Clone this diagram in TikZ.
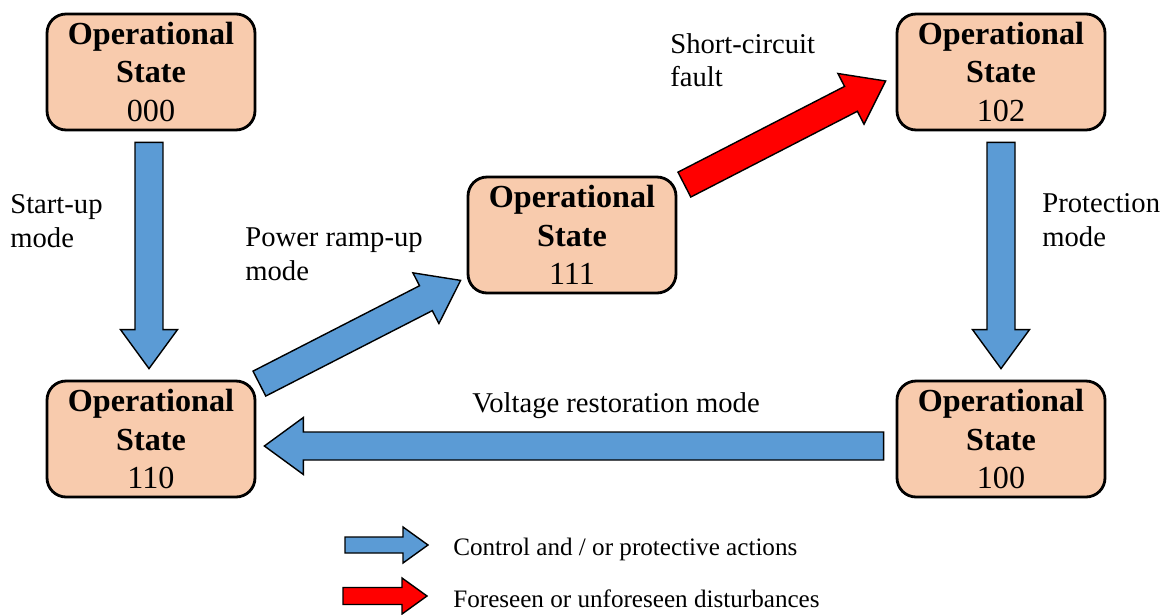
\documentclass[tikz,border=0pt]{standalone}
\usepackage{fontspec}
\setmainfont{Liberation Serif}
\usepackage{xcolor}
\usepackage{tikz}
\usetikzlibrary{calc, positioning}
\definecolor{statepeach}{HTML}{F8CBAD}
\definecolor{ctrlblue}{HTML}{5B9BD5}
\definecolor{faultred}{HTML}{FF0000}

\begin{document}
\begin{tikzpicture}[x=0.02cm, y=-0.02cm,
    st/.style={draw, line width=1.6pt, rounded corners=0.38cm, fill=statepeach, minimum width=4.16cm, minimum height=2.32cm, align=center, inner sep=0pt, font=\fontsize{18.3}{22}\selectfont},
    lbl/.style={anchor=base west, align=left, inner sep=0pt, font=\fontsize{16.3}{19.3}\selectfont},
    leg/.style={anchor=base west, inner sep=0pt, font=\fontsize{14.3}{17}\selectfont},
    ba shaft/.store in=\baShaft, ba head/.store in=\baHead, ba len/.store in=\baLen,
    ba shaft=0.28cm, ba head=0.57cm, ba len=0.78cm,
    barr/.style={draw, line width=0.8pt, line join=miter, fill=#1,
      to path={let \p1=($(\tikztotarget)-(\tikztostart)$), \n1={atan2(\y1,\x1)} in
        ($(\tikztostart)+(\n1+90:\baShaft)$)
        -- ($(\tikztotarget)+(\n1+180:\baLen)+(\n1+90:\baShaft)$)
        -- ($(\tikztotarget)+(\n1+180:\baLen)+(\n1+90:\baHead)$)
        -- (\tikztotarget)
        -- ($(\tikztotarget)+(\n1+180:\baLen)+(\n1-90:\baHead)$)
        -- ($(\tikztotarget)+(\n1+180:\baLen)+(\n1-90:\baShaft)$)
        -- ($(\tikztostart)+(\n1-90:\baShaft)$) -- cycle}}]
    \useasboundingbox (0,0) rectangle (1166,615);

    \node[st] (s000) at (151,72) {\textbf{Operational}\\\textbf{State}\\000};
    \node[st] (s102) at (1001,72) {\textbf{Operational}\\\textbf{State}\\102};
    \node[st] (s111) at (572,235) {\textbf{Operational}\\\textbf{State}\\111};
    \node[st] (s110) at (151,439) {\textbf{Operational}\\\textbf{State}\\110};
    \node[st] (s100) at (1001,439) {\textbf{Operational}\\\textbf{State}\\100};

    \coordinate (a1s) at ($(s000.south)+(-2,11)$);
    \coordinate (a1e) at ($(s110.north)+(-2,-11)$);
    \coordinate (a2s) at ($(s102.south)+(0,11)$);
    \coordinate (a2e) at ($(s100.north)+(0,-11)$);
    \coordinate (a3s) at ($(s100.west)+(-12,7)$);
    \coordinate (a3e) at ($(s110.east)+(8,7)$);
    \coordinate (a4s) at ($(s110.north east)+(3,4)$);
    \coordinate (a4e) at ($(s111.south west)+(-6,-14)$);
    \coordinate (a5s) at ($(s111.north east)+(7,9)$);
    \coordinate (a5e) at ($(s102.west)+(-10,9)$);

    \path[barr=ctrlblue] (a1s) to (a1e);
    \path[barr=ctrlblue] (a2s) to (a2e);
    \path[barr=ctrlblue] (a3s) to (a3e);
    \path[barr=ctrlblue] (a4s) to (a4e);
    \path[barr=faultred] (a5s) to (a5e);

    \node[lbl] (lstart) at (10,247) {Start-up\\mode};
    \node[lbl] (lramp) at (245,280) {Power ramp-up\\mode};
    \node[lbl] (lfault) at (670,87) {Short-circuit\\fault};
    \node[lbl] (lprot) at (1042,246) {Protection\\mode};
    \node[lbl, anchor=base] (lvolt) at (616,412) {Voltage restoration mode};

    \node[leg] (leg1) at (453,555) {Control and / or protective actions};
    \node[leg] (leg2) at (453,607) {Foreseen or unforeseen disturbances};
    \coordinate (l1s) at ($(leg1.base west)+(-108,-10)$);
    \coordinate (l1e) at ($(leg1.base west)+(-25,-10)$);
    \coordinate (l2s) at ($(leg2.base west)+(-110,-11)$);
    \coordinate (l2e) at ($(leg2.base west)+(-26,-11)$);
    \path[barr=ctrlblue, ba shaft=0.16cm, ba head=0.36cm, ba len=0.5cm] (l1s) to (l1e);
    \path[barr=faultred, ba shaft=0.17cm, ba head=0.36cm, ba len=0.5cm] (l2s) to (l2e);
\end{tikzpicture}
\end{document}
